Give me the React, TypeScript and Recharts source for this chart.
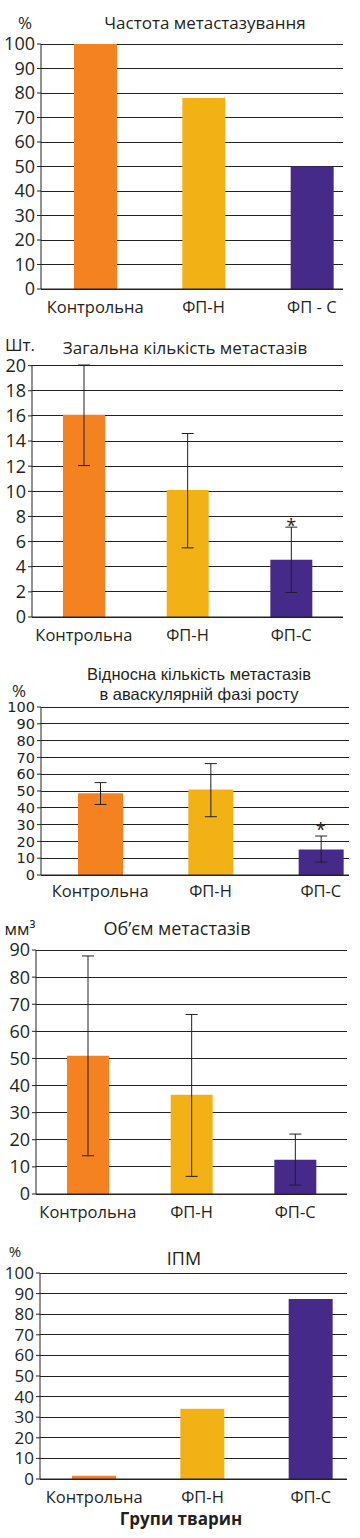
import { BarChart, Bar, Cell, XAxis, YAxis, CartesianGrid, ErrorBar, ReferenceDot } from "recharts";

// groups
const groupColors = ["#F58220", "#F2B115", "#452A8A"];
const freqLabels = ["Контрольна", "ФП-Н", "ФП - С"];
const groupLabels = ["Контрольна", "ФП-Н", "ФП-С"];

// 1. Частота метастазування, %
const freqValues = [100, 78, 50];
const freqTicks = [0, 10, 20, 30, 40, 50, 60, 70, 80, 90, 100];

// 2. Загальна кількість метастазів, шт.
const countValues = [16.1, 10.1, 4.55];
const countLow = [12.05, 5.5, 1.95];
const countHigh = [20.05, 14.6, 7.15];
const countTicks = [0, 2, 4, 6, 8, 10, 12, 14, 16, 18, 20];
const countStar = 7.3;

// 3. Відносна кількість метастазів в аваскулярній фазі росту, %
const relValues = [48.7, 50.9, 15.2];
const relLow = [42, 34.7, 7.7];
const relHigh = [55, 66.3, 23.2];
const relTicks = [0, 10, 20, 30, 40, 50, 60, 70, 80, 90, 100];
const relStar = 27;

// 4. Об'єм метастазів, мм3
const volValues = [51, 36.6, 12.6];
const volLow = [14.1, 6.5, 3.3];
const volHigh = [87.8, 66.2, 22.1];
const volTicks = [0, 10, 20, 30, 40, 50, 60, 70, 80, 90];

// 5. ІПМ, %
const ipmValues = [1.6, 34.1, 87.4];
const ipmTicks = [0, 10, 20, 30, 40, 50, 60, 70, 80, 90, 100];

const ink = "#231f20";
const lineColor = "#222";
const edgeTicks = [0, 1, 2, 3];

type Row = { name: string; value: number; err?: [number, number] };

function buildRows(labels: string[], values: number[], low?: number[], high?: number[]): Row[] {
  return labels.map((name, i) => ({
    name,
    value: values[i],
    err: low && high ? [values[i] - low[i], high[i] - values[i]] : undefined,
  }));
}

type Caption = {
  lines: string[];
  x: number;
  y: number;
  size?: number;
  lh?: number;
  bold?: boolean;
  family?: string;
};

interface PanelProps {
  height: number;
  rows: Row[];
  ticks: number[];
  margin: { top: number; right: number; bottom: number };
  yWidth: number;
  yFont?: { size: number; family?: string };
  xHeight: number;
  xGap?: number;
  barSize: number;
  pad: { left: number; right: number };
  withErrors?: boolean;
  star?: { name: string; y: number };
  captions: Caption[];
}

function Panel({
  height,
  rows,
  ticks,
  margin,
  yWidth,
  yFont = { size: 18 },
  xHeight,
  xGap = 6,
  barSize,
  pad,
  withErrors,
  star,
  captions,
}: PanelProps) {
  const max = ticks[ticks.length - 1];
  return (
    <div style={{ position: "relative", width: 360, height }}>
      <BarChart
        width={360}
        height={height}
        data={rows}
        margin={{ top: margin.top, right: margin.right, left: 0, bottom: margin.bottom }}
      >
        <CartesianGrid vertical={false} stroke={lineColor} strokeWidth={1} shapeRendering="crispEdges" />
        <XAxis
          xAxisId="edges"
          type="number"
          domain={[0, 3]}
          ticks={edgeTicks}
          tick={false}
          axisLine={false}
          tickLine={{ stroke: lineColor }}
          tickSize={5}
          height={0}
        />
        <XAxis
          dataKey="name"
          interval={0}
          tickLine={false}
          axisLine={{ stroke: lineColor }}
          tick={{ fontSize: 16.5, fill: ink }}
          tickSize={6}
          tickMargin={xGap}
          height={xHeight}
          padding={pad}
        />
        <YAxis
          domain={[0, max]}
          ticks={ticks}
          interval={0}
          width={yWidth}
          tickSize={4}
          tickMargin={2}
          tickLine={{ stroke: lineColor }}
          axisLine={{ stroke: lineColor }}
          tick={{ fontSize: yFont.size, fill: ink, fontFamily: yFont.family }}
        />
        <YAxis
          yAxisId="edge"
          orientation="right"
          domain={[0, max]}
          width={0}
          tick={false}
          tickLine={false}
          axisLine={{ stroke: lineColor }}
        />
        <Bar dataKey="value" barSize={barSize} isAnimationActive={false}>
          {rows.map((r, i) => (
            <Cell key={r.name} fill={groupColors[i]} />
          ))}
          {withErrors && <ErrorBar dataKey="err" width={6} stroke={ink} strokeWidth={1} isAnimationActive={false} />}
        </Bar>
        {star && (
          <ReferenceDot
            x={star.name}
            y={star.y}
            r={0}
            fill="none"
            stroke="none"
            label={{ value: "*", position: "center", fontSize: 18, fill: ink }}
          />
        )}
      </BarChart>
      {captions.map((c) => (
        <div
          key={c.lines[0]}
          style={{
            position: "absolute",
            left: c.x,
            top: c.y,
            transform: "translate(-50%, -50%)",
            whiteSpace: "nowrap",
            textAlign: "center",
            fontSize: c.size ?? 17,
            fontWeight: c.bold ? 700 : 400,
            fontFamily: c.family,
            color: ink,
            lineHeight: c.lh ? `${c.lh}px` : 1,
          }}
        >
          {c.lines.map((l, i) => (
            <span key={l}>
              {i > 0 && <br />}
              {l}
            </span>
          ))}
        </div>
      ))}
    </div>
  );
}

export default function App() {
  return (
    <div
      style={{
        position: "absolute",
        left: 0,
        top: 0,
        width: 360,
        height: 1538,
        background: "#fff",
        fontFamily: "'Open Sans', sans-serif",
      }}
    >
      <Panel
        height={330}
        rows={buildRows(freqLabels, freqValues)}
        ticks={freqTicks}
        margin={{ top: 44, right: 17, bottom: 11 }}
        yWidth={41}
        xHeight={30}
        barSize={43}
        pad={{ left: 0, right: -23 }}
        captions={[
          { lines: ["%"], x: 25, y: 22 },
          { lines: ["Частота метастазування"], x: 205, y: 22 },
        ]}
      />
      <Panel
        height={330}
        rows={buildRows(groupLabels, countValues, countLow, countHigh)}
        ticks={countTicks}
        margin={{ top: 35, right: 17, bottom: 13 }}
        yWidth={32}
        xHeight={30}
        barSize={42}
        pad={{ left: 0, right: 0 }}
        withErrors
        star={{ name: "ФП-С", y: countStar }}
        captions={[
          { lines: ["Шт."], x: 20, y: 14 },
          { lines: ["Загальна кількість метастазів"], x: 185, y: 17 },
        ]}
      />
      <Panel
        height={246}
        rows={buildRows(groupLabels, relValues, relLow, relHigh)}
        ticks={relTicks}
        margin={{ top: 47, right: 11, bottom: 6 }}
        yWidth={41}
        yFont={{ size: 14.5, family: "'DejaVu Sans', sans-serif" }}
        xHeight={25}
        xGap={4}
        barSize={45}
        pad={{ left: 4, right: -27 }}
        withErrors
        star={{ name: "ФП-С", y: relStar }}
        captions={[
          { lines: ["%"], x: 19, y: 30 },
          {
            lines: ["Відносна кількість метастазів", "в аваскулярній фазі росту"],
            x: 199,
            y: 24,
            size: 16.5,
            lh: 19.5,
            family: "'Liberation Sans', sans-serif",
          },
        ]}
      />
      <Panel
        height={324}
        rows={buildRows(groupLabels, volValues, volLow, volHigh)}
        ticks={volTicks}
        margin={{ top: 44, right: 13, bottom: 6 }}
        yWidth={36}
        xHeight={30}
        barSize={42}
        pad={{ left: 0, right: 0 }}
        withErrors
        captions={[
          { lines: ["мм³"], x: 20, y: 22 },
          { lines: ["Об’єм метастазів"], x: 177, y: 22, size: 18 },
        ]}
      />
      <Panel
        height={308}
        rows={buildRows(groupLabels, ipmValues)}
        ticks={ipmTicks}
        margin={{ top: 43, right: 13, bottom: 29 }}
        yWidth={40}
        yFont={{ size: 17 }}
        xHeight={30}
        barSize={44}
        pad={{ left: 0, right: -18 }}
        captions={[
          { lines: ["%"], x: 15, y: 21, size: 15 },
          { lines: ["ІПМ"], x: 184, y: 28, size: 18 },
          { lines: ["Групи тварин"], x: 181, y: 288, size: 17, bold: true },
        ]}
      />
    </div>
  );
}
